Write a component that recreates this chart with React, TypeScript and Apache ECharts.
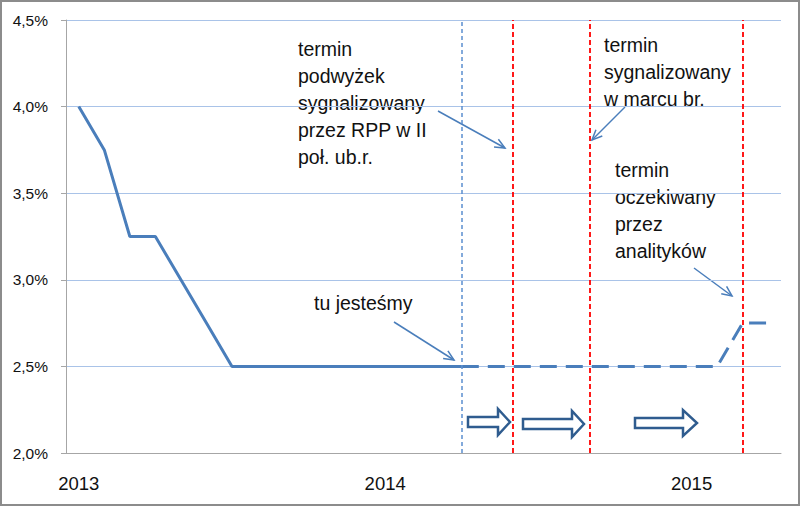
import { useEffect, useRef } from 'react';
import * as echarts from 'echarts';

// miesiące: styczeń 2013 - kwiecień 2015
const months = [
  '2013-01', '2013-02', '2013-03', '2013-04', '2013-05', '2013-06',
  '2013-07', '2013-08', '2013-09', '2013-10', '2013-11', '2013-12',
  '2014-01', '2014-02', '2014-03', '2014-04', '2014-05', '2014-06',
  '2014-07', '2014-08', '2014-09', '2014-10', '2014-11', '2014-12',
  '2015-01', '2015-02', '2015-03', '2015-04',
];

// stopa referencyjna - dane historyczne
const actualRate = [
  4.0, 3.75, 3.25, 3.25, 3.0, 2.75, 2.5, 2.5, 2.5, 2.5, 2.5, 2.5, 2.5, 2.5, 2.5, 2.5,
  null, null, null, null, null, null, null, null, null, null, null, null,
];

// prognoza
const forecastRate = [
  null, null, null, null, null, null, null, null, null, null, null, null, null, null, null,
  2.5, 2.5, 2.5, 2.5, 2.5, 2.5, 2.5, 2.5, 2.5, 2.5, 2.5, 2.75, 2.75,
];

// pionowe linie
const nowMonth = '2014-04';
const signalMonths = ['2014-06', '2014-09', '2015-03'];

const FONT = "'Liberation Sans', Arial, sans-serif";
const BLUE = '#4A7EBB';

const arrowLine = (x1: number, y1: number, x2: number, y2: number) => {
  const a = Math.atan2(y2 - y1, x2 - x1);
  const len = 11;
  const sp = 0.42;
  return [
    { type: 'line', shape: { x1, y1, x2, y2 }, style: { stroke: BLUE, lineWidth: 1.5 } },
    {
      type: 'polyline',
      shape: {
        points: [
          [x2 - len * Math.cos(a - sp), y2 - len * Math.sin(a - sp)],
          [x2, y2],
          [x2 - len * Math.cos(a + sp), y2 - len * Math.sin(a + sp)],
        ],
      },
      style: { stroke: BLUE, lineWidth: 1.5, fill: null },
    },
  ];
};

const blockArrow = (x1: number, xh: number, x2: number, cy: number) => ({
  type: 'polygon',
  shape: {
    points: [
      [x1, cy - 5], [xh, cy - 5], [xh, cy - 13], [x2, cy],
      [xh, cy + 13], [xh, cy + 5], [x1, cy + 5],
    ],
  },
  style: { stroke: '#2F5C8F', lineWidth: 2.5, fill: '#fff', lineJoin: 'miter' },
});

const note = (x: number, y: number, text: string) => ({
  type: 'text',
  x,
  y,
  style: {
    text,
    font: `19.5px ${FONT}`,
    fill: '#111',
    lineHeight: 27,
    verticalAlign: 'top',
  },
});

export default function App() {
  const chartDom = useRef<HTMLDivElement>(null);

  useEffect(() => {
    const chart = echarts.init(chartDom.current, null, { renderer: 'svg' });

    const redLine = { color: '#FF0000', type: [5, 3], width: 1.8 };

    const option = {
      animation: false,
      backgroundColor: '#fff',
      grid: { left: 66, right: 19, top: 20, bottom: 53 },
      xAxis: {
        type: 'category',
        data: months,
        boundaryGap: true,
        axisLine: { lineStyle: { color: '#A6A6A6', width: 1 } },
        axisTick: {
          interval: (i: number) => i % 12 === 0,
          length: 8,
          lineStyle: { color: '#A6A6A6' },
        },
        axisLabel: {
          interval: (i: number) => i % 12 === 0,
          formatter: (v: string) => v.slice(0, 4),
          fontFamily: FONT,
          fontSize: 18.5,
          color: '#111',
          margin: 21,
        },
        splitLine: { show: false },
      },
      yAxis: {
        type: 'value',
        min: 2,
        max: 4.5,
        interval: 0.5,
        axisLine: { show: true, lineStyle: { color: '#A6A6A6', width: 1 } },
        axisTick: { show: true, length: 5, lineStyle: { color: '#A6A6A6' } },
        axisLabel: {
          formatter: (v: number) => v.toFixed(1).replace('.', ',') + '%',
          fontFamily: FONT,
          fontSize: 15.5,
          color: '#111',
          margin: 18,
        },
        splitLine: { lineStyle: { color: '#A9C3E8', width: 1 } },
      },
      series: [
        {
          type: 'line',
          data: actualRate,
          symbol: 'none',
          lineStyle: { color: BLUE, width: 3 },
          z: 3,
        },
        {
          type: 'line',
          data: forecastRate,
          symbol: 'none',
          lineStyle: { color: BLUE, width: 3, type: [17, 9] },
          z: 3,
          markLine: {
            silent: true,
            symbol: ['none', 'none'],
            label: { show: false },
            z: 4,
            data: [
              { xAxis: nowMonth, lineStyle: { color: '#5B8ED0', type: [4, 3], width: 1.5 } },
              ...signalMonths.map((m) => ({ xAxis: m, lineStyle: redLine })),
            ],
          },
        },
      ],
      graphic: [
        {
          type: 'rect',
          shape: { x: 1, y: 1, width: 798, height: 504 },
          style: { stroke: '#8C8C8C', lineWidth: 2, fill: null },
          z: 10,
        },
        note(298, 35.5, 'termin\npodwyżek\nsygnalizowany\nprzez RPP w II\npoł. ub.r.'),
        note(604, 31.5, 'termin\nsygnalizowany\nw marcu br.'),
        note(615, 156.5, 'termin\noczekiwany\nprzez\nanalityków'),
        note(314, 289.5, 'tu jesteśmy'),
        ...arrowLine(438, 111, 505, 148),
        ...arrowLine(625, 107, 592, 140),
        ...arrowLine(394, 322, 454, 360),
        ...arrowLine(694, 268, 732, 296),
        blockArrow(468, 498, 510, 422),
        blockArrow(523, 572, 584, 424),
        blockArrow(635, 683, 697, 423),
      ],
    };

    chart.setOption(option);

    return () => {
      chart.dispose();
    };
  }, []);

  return (
    <div
      ref={chartDom}
      style={{ position: 'fixed', left: 0, top: 0, width: 800, height: 506 }}
    />
  );
}
